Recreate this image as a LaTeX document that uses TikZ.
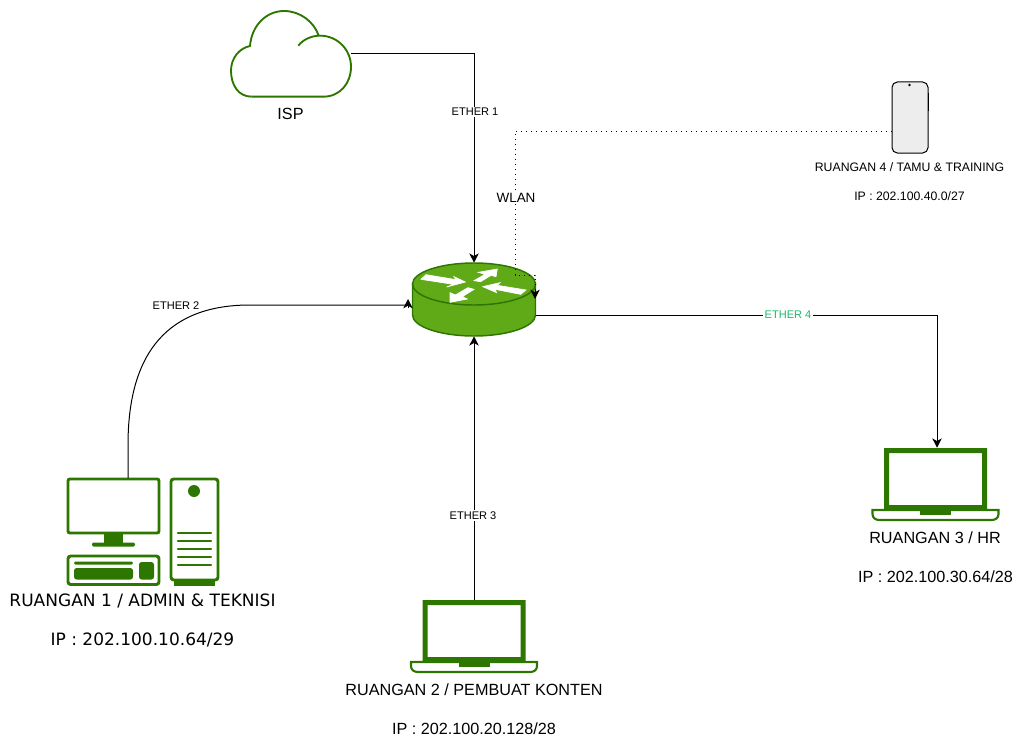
\documentclass[tikz,border=0pt]{standalone}
\usepackage{fontspec}
\setmainfont{Liberation Sans}
\newfontfamily\wideface{DejaVu Sans}
\usetikzlibrary{arrows.meta}
\definecolor{icongreen}{HTML}{2D7600}
\definecolor{routergreen}{HTML}{60A917}
\definecolor{etherfour}{HTML}{1FB86A}
\tikzset{
  wire/.style={draw=black, line width=0.75pt},
  wiretip/.style={wire, -{Stealth[length=7pt,width=7pt,inset=2pt]}},
  wlan/.style={draw=black, line width=0.75pt, dash pattern=on 0.75pt off 3pt},
  hitbox/.style 2 args={inner sep=0pt, minimum width=#1*0.75pt, minimum height=#2*0.75pt},
  routerarrow/.style={fill=white, draw=white, line width=0.5pt},
  roomtext/.style={font=\fontsize{12.15}{14}\selectfont, inner sep=0pt},
  widetext/.style={font=\wideface\fontsize{12.76}{16}\selectfont, inner sep=0pt},
  smalltext/.style={font=\fontsize{9.2}{11}\selectfont, inner sep=0pt},
  wirelabel/.style={font=\fontsize{8.3}{10}\selectfont, fill=white, inner sep=1pt},
  laptop/.pic={
    \fill[icongreen, even odd rule] (-51.5,0) rectangle (51.5,62) (-46.5,5) rectangle (46.5,57);
    \fill[icongreen] (-15.5,61) rectangle (15.5,66.5);
    \draw[icongreen, line width=1.6pt] (-63,62) -- (63,62) -- (63,66) .. controls (63,70) and (60,72) .. (56,72) -- (-56,72) .. controls (-60,72) and (-63,70) .. (-63,66) -- cycle;
  }
}
\begin{document}
\begin{tikzpicture}[x=0.75pt,y=-0.75pt]
    \useasboundingbox (0,0) rectangle (1024,749);

    % Cloud
    \node[hitbox={120}{86}] (isp) at (291,54) {};
    \begin{scope}[shift={(215,5)},x=0.25pt,y=-0.25pt]
      \draw[icongreen, line width=1.4pt] (110,275) .. controls (70,275) and (48,240) .. (48,197) .. controls (48,160) and (72,130) .. (105,123) .. controls (110,60) and (155,18) .. (207,18) .. controls (255,18) and (297,50) .. (311,92);
      \draw[icongreen, line width=1.4pt] (250,122) .. controls (265,103) and (290,92) .. (315,92) .. controls (368,92) and (408,135) .. (408,185) .. controls (408,235) and (375,275) .. (325,275) -- (110,275);
    \end{scope}

    % Phone
    \node[hitbox={36}{71}] (room4) at (910,117.5) {};
    \draw[black, line width=0.75pt, fill=black!7, rounded corners=4pt] (892,82) rectangle (928,153);
    \fill[black] (909.5,85) circle [radius=1.4];
    \draw[black, line width=0.9pt] (928.8,93) -- (928.8,111);
    \coordinate (phoneport) at (892,131);

    % Router
    \node[hitbox={124}{73}] (router) at (474,299.5) {};
    \draw[icongreen, fill=routergreen, line width=1.1pt] (412.5,284) -- (412.5,315) arc [start angle=180, end angle=0, x radius=61.5, y radius=21] -- (535.5,284) -- cycle;
    \draw[icongreen, fill=routergreen, line width=1.1pt] (474,284) ellipse [x radius=61.5, y radius=21];
    \begin{scope}[shift={(390,240)},x=0.25pt,y=-0.25pt]
      \path[routerarrow] (108,104) -- (198,119) -- (192,110) -- (226,126) -- (170,141) -- (190,133) -- (93,118) -- cycle;
      \path[routerarrow] (252,122) -- (285,103) -- (265,97) -- (322,87) -- (318,110) -- (303,106) -- (272,125) -- cycle;
      \path[routerarrow] (234,143) -- (252,148) -- (217,170) -- (232,177) -- (180,187) -- (180,158) -- (196,165) -- cycle;
      \path[routerarrow] (408,150) -- (392,163) -- (315,148) -- (320,158) -- (278,140) -- (330,128) -- (322,136) -- cycle;
    \end{scope}
    \coordinate (routerleft) at (408,305);
    \coordinate (routerright) at (536,315);
    \coordinate (routerwlan) at (535,275);

    % Computer
    \node[hitbox={92}{55}] (monitor) at (113,505.5) {};
    \coordinate (monitorport) at (128,478);
    \draw[icongreen, line width=2.2pt, rounded corners=1.5pt] (68,479) rectangle (159,533);
    \fill[icongreen] (104,533) rectangle (123,543);
    \fill[icongreen, rounded corners=1pt] (92,542.5) rectangle (135,546.5);
    \draw[icongreen, line width=2.2pt, rounded corners=2pt] (68,556) rectangle (159,584.5);
    \fill[icongreen, rounded corners=1pt] (74,561.5) rectangle (133,564.5);
    \fill[icongreen, rounded corners=2pt] (74,568) rectangle (133,579.5);
    \fill[icongreen, rounded corners=2pt] (139,562) rectangle (154,579.5);
    \draw[icongreen, line width=2.2pt, rounded corners=2pt] (171,479) rectangle (218,580);
    \fill[icongreen] (174,580) rectangle (215,585.5);
    \fill[icongreen] (194,491) circle [radius=6];
    \foreach \y in {533,541,549,557,565}
      \draw[icongreen, line width=1.8pt, line cap=round] (178,\y) -- (211,\y);

    % Laptops
    \node[hitbox={103}{62}] (room2) at (474,631) {};
    \pic at (474,600) {laptop};
    \node[hitbox={103}{62}] (room3) at (937,479) {};
    \pic at (935.5,448) {laptop};

    % Connectors
    \draw[wiretip] (isp.east) -| (router.north);
    \draw[wire] (monitorport) -- (128,445) .. controls (128,350) and (170,305) .. (250,305) -- (routerleft);
    \draw[wiretip] ([yshift=-2.25pt]routerleft) -- ++(0,-9);
    \draw[wiretip] (room2.north) -- (router.south);
    \draw[wiretip] (routerright) -| (room3.north);
    \draw[wlan] (phoneport) -| (515,275) -- (routerwlan) -- (535,290);
    \draw[wiretip] (535,290) -- (535,299);

    % Labels
    \node[wirelabel] (etherone) at (475,111.7) {ETHER 1};
    \node[wirelabel] (ethertwo) at (176,305.7) {ETHER 2};
    \node[wirelabel] (etherthree) at (473,515.7) {ETHER 3};
    \node[wirelabel, text=etherfour] (etherfour) at (788,314.7) {ETHER 4};
    \node[wirelabel, font=\fontsize{10.1}{12}\selectfont] (wlanlabel) at (516,198) {WLAN};
    \node[roomtext] (isplabel) at (290.5,114) {ISP};
    \node[widetext] (roomonename) at (142.5,601) {RUANGAN 1 / ADMIN \& TEKNISI};
    \node[widetext] (roomoneip) at (142.5,640) {IP : 202.100.10.64/29};
    \node[roomtext] (roomtwoname) at (474,690) {RUANGAN 2 / PEMBUAT KONTEN};
    \node[roomtext] (roomtwoip) at (474,729) {IP : 202.100.20.128/28};
    \node[roomtext] (roomthreename) at (935,538) {RUANGAN 3 / HR};
    \node[roomtext] (roomthreeip) at (935.5,577) {IP : 202.100.30.64/28};
    \node[smalltext] (roomfourname) at (909.5,167) {RUANGAN 4 / TAMU \& TRAINING};
    \node[smalltext] (roomfourip) at (909.5,196) {IP : 202.100.40.0/27};
\end{tikzpicture}
\end{document}
